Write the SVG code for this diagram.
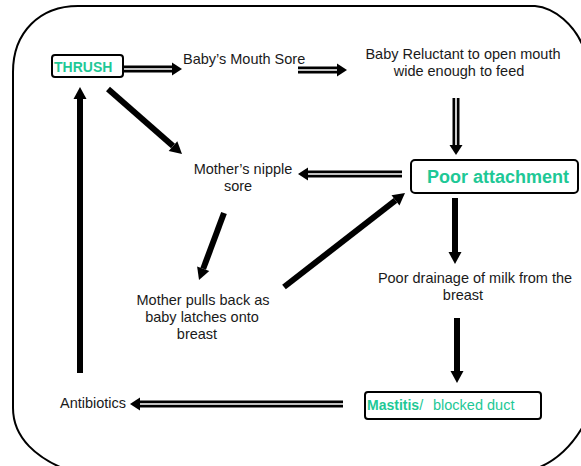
<svg xmlns="http://www.w3.org/2000/svg" width="581" height="466" viewBox="0 0 581 466">
<style>
.t{font-family:"Liberation Sans",Arial,sans-serif;font-size:14.5px;fill:#1a1a1a}
.g{font-family:"Liberation Sans",Arial,sans-serif;fill:#1ec896}
.box{fill:#fff;stroke:#000;stroke-width:2}
.solid{stroke:#000;stroke-width:6;fill:none}
.dbl{stroke:#000;stroke-width:7;fill:none}
.inner{stroke:#fff;stroke-width:1.6;fill:none}
</style>
<defs>
<marker id="ah" markerUnits="userSpaceOnUse" markerWidth="14" markerHeight="14" refX="0" refY="6.5" orient="auto" overflow="visible">
<path d="M0,0 L12,6.5 L0,13 Z" fill="#000"/>
</marker>
<marker id="ahd" markerUnits="userSpaceOnUse" markerWidth="14" markerHeight="14" refX="0" refY="6.5" orient="auto" overflow="visible">
<path d="M0,0 L10,6.5 L0,13 Z" fill="#000"/>
</marker>
</defs>
<rect width="581" height="466" fill="#fff"/>
<path id="frame" d="M13,408 V72 C13,32 40,6 78,6 H535 C556,8 574,26 582,44 L600,80 V400 L582,428 C570,448 556,460 540,467 L520,480 H80 L60,467 C40,458 13,440 13,408 Z" fill="none" stroke="#000" stroke-width="2"/>
<g id="connectors">
<line class="dbl" x1="124" y1="69" x2="172" y2="69" marker-end="url(#ahd)"/>
<line class="inner" x1="124" y1="69" x2="172" y2="69"/>
<line class="dbl" x1="298" y1="70" x2="337" y2="70" marker-end="url(#ahd)"/>
<line class="inner" x1="298" y1="70" x2="337" y2="70"/>
<line class="dbl" x1="456" y1="98" x2="456" y2="145" marker-end="url(#ahd)"/>
<line class="inner" x1="456" y1="98" x2="456" y2="145"/>
<line class="dbl" x1="402" y1="174" x2="308" y2="174" marker-end="url(#ahd)"/>
<line class="inner" x1="402" y1="174" x2="308" y2="174"/>
<line class="dbl" x1="343" y1="404" x2="140" y2="404" marker-end="url(#ahd)"/>
<line class="inner" x1="343" y1="404" x2="140" y2="404"/>
<line class="solid" x1="108" y1="89" x2="173" y2="146.1" marker-end="url(#ah)"/>
<line class="solid" x1="224" y1="213" x2="203.2" y2="268.8" marker-end="url(#ah)"/>
<line class="solid" x1="284" y1="287" x2="395.5" y2="200.4" marker-end="url(#ah)"/>
<line class="solid" x1="455" y1="198" x2="455" y2="252" marker-end="url(#ah)"/>
<line class="solid" x1="457" y1="318" x2="457" y2="371" marker-end="url(#ah)"/>
<line class="solid" x1="80" y1="373" x2="80" y2="99" marker-end="url(#ah)"/>
</g>
<g id="thrush">
<rect class="box" x="52" y="55" width="71" height="22" rx="3"/>
<text class="g" x="54" y="72" font-size="14" font-weight="bold">THRUSH</text>
</g>
<g id="mouth-sore">
<text class="t" x="183" y="64">Baby’s Mouth Sore</text>
</g>
<g id="reluctant">
<text class="t" x="463" y="59" text-anchor="middle">Baby Reluctant to open mouth</text>
<text class="t" x="459" y="76" text-anchor="middle">wide enough to feed</text>
</g>
<g id="poor-attachment">
<rect class="box" x="411" y="160" width="167" height="33" rx="4"/>
<text class="g" x="427" y="183" font-size="18" font-weight="bold">Poor attachment</text>
</g>
<g id="nipple-sore">
<text class="t" x="243" y="174" text-anchor="middle">Mother’s nipple</text>
<text class="t" x="238" y="191" text-anchor="middle">sore</text>
</g>
<g id="pulls-back">
<text class="t" x="203" y="305" text-anchor="middle">Mother pulls back as</text>
<text class="t" x="202" y="322" text-anchor="middle">baby latches onto</text>
<text class="t" x="197" y="339" text-anchor="middle">breast</text>
</g>
<g id="drainage">
<text class="t" x="475" y="283" text-anchor="middle">Poor drainage of milk from the</text>
<text class="t" x="463" y="300" text-anchor="middle">breast</text>
</g>
<g id="mastitis">
<rect class="box" x="365" y="392" width="176" height="27" rx="3"/>
<text class="g" x="367" y="410" font-size="14"><tspan font-weight="bold">Mastitis</tspan><tspan font-size="14.5">/</tspan><tspan x="433" font-size="14.5">blocked duct</tspan></text>
</g>
<g id="antibiotics">
<text class="t" x="60" y="408">Antibiotics</text>
</g>
</svg>
